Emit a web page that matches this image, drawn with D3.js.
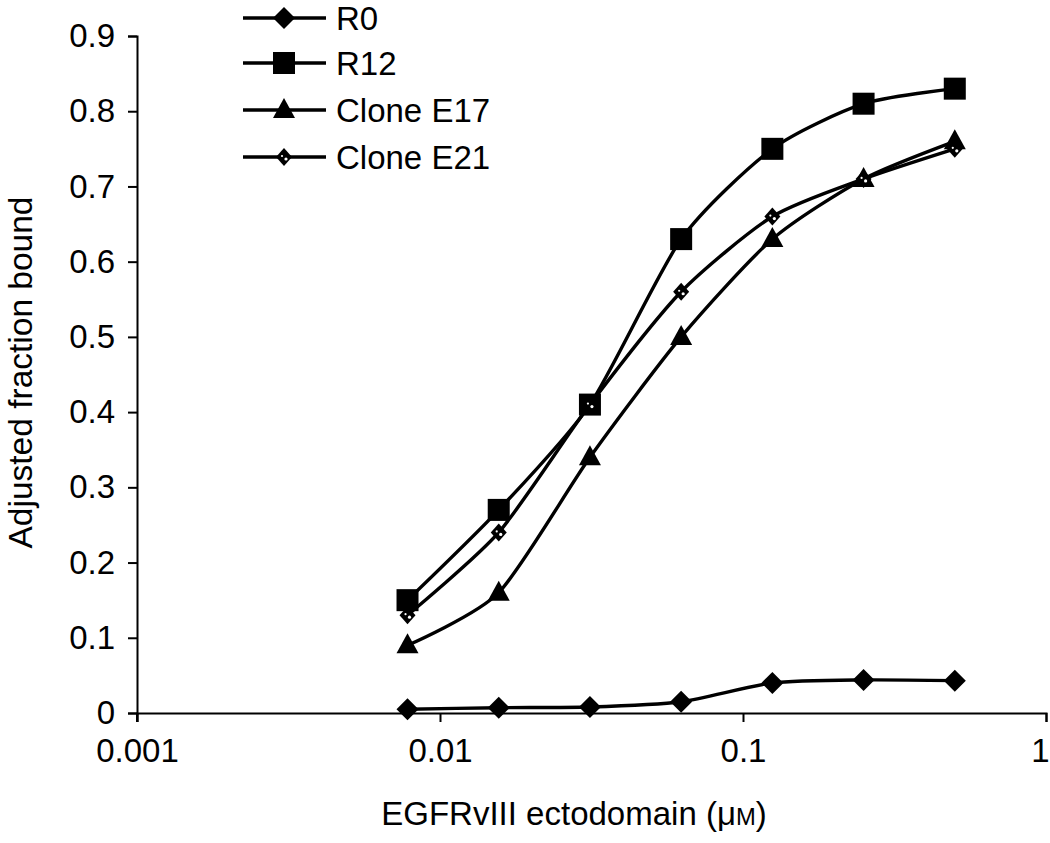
<!DOCTYPE html>
<html><head><meta charset="utf-8">
<script src="https://cdn.jsdelivr.net/npm/d3@7"></script>
<style>body{margin:0;background:#fff}svg{display:block}text{font-family:"Liberation Sans",Arial,sans-serif;fill:#000}</style>
</head><body>
<script>
const concentrations = [0.0078125, 0.015625, 0.03125, 0.0625, 0.125, 0.25, 0.5];
const seriesNames = ["R0", "R12", "Clone E17", "Clone E21"];
const r0   = [0.005, 0.007, 0.008, 0.015, 0.040, 0.044, 0.043];
const r12  = [0.150, 0.270, 0.410, 0.630, 0.750, 0.810, 0.830];
const e17  = [0.090, 0.160, 0.340, 0.500, 0.630, 0.710, 0.760];
const e21  = [0.130, 0.240, 0.410, 0.560, 0.660, 0.710, 0.750];
const xTicks = [0.001, 0.01, 0.1, 1];
const xTickLabels = ["0.001", "0.01", "0.1", "1"];
const yTicks = [0, 0.1, 0.2, 0.3, 0.4, 0.5, 0.6, 0.7, 0.8, 0.9];
const yTickLabels = ["0", "0.1", "0.2", "0.3", "0.4", "0.5", "0.6", "0.7", "0.8", "0.9"];
const markers = ["diamond", "square", "triangle", "star"];

const W = 1050, H = 843;
const m = {left: 137, top: 36, right: 4, bottom: 130};
const svg = d3.select("body").append("svg").attr("width", W).attr("height", H);
const x = d3.scaleLog().domain([0.001, 1]).range([m.left, W - m.right]);
const y = d3.scaleLinear().domain([0, 0.9]).range([H - m.bottom, m.top]);
const FS = 33;

// axes
const xAxis = svg.append("g").attr("transform", `translate(0,${y(0)})`)
  .call(d3.axisBottom(x).tickValues(xTicks).tickFormat((d,i) => xTickLabels[i]).tickSizeOuter(0).tickSize(9));
const yAxis = svg.append("g").attr("transform", `translate(${x(0.001)},0)`)
  .call(d3.axisLeft(y).tickValues(yTicks).tickFormat((d,i) => yTickLabels[i]).tickSizeOuter(0).tickSize(9));
[xAxis, yAxis].forEach(g => {
  g.select(".domain").attr("stroke", "#000").attr("stroke-width", 2);
  g.selectAll(".tick line").attr("stroke", "#000").attr("stroke-width", 2);
  g.selectAll(".tick text").attr("font-size", FS).attr("font-family", "Liberation Sans, Arial, sans-serif").attr("fill", "#000");
});
xAxis.selectAll(".tick text").attr("dy", "1.12em");
xAxis.selectAll(".tick").filter(d => d === 1).select("text").attr("text-anchor", "end").attr("dx", 3);
yAxis.selectAll(".tick text").attr("x", -22);
// cross tick at origin
svg.append("line").attr("x1", x(0.001)).attr("x2", x(0.001)).attr("y1", y(0)).attr("y2", y(0) + 9).attr("stroke", "#000").attr("stroke-width", 2);

const xt = svg.append("text").attr("x", 574).attr("y", 825).attr("text-anchor", "middle").attr("font-size", FS);
xt.append("tspan").text("EGFRvIII ectodomain (μ");
xt.append("tspan").attr("font-size", FS*0.72).text("M");
xt.append("tspan").text(")");
svg.append("text").attr("transform", `translate(32,${(y(0)+y(0.9))/2 - 2}) rotate(-90)`).attr("text-anchor", "middle")
  .attr("font-size", 33.5).text("Adjusted fraction bound");

function drawMarker(g, type, cx, cy) {
  if (type === "diamond") {
    g.append("path").attr("d", `M${cx},${cy-11}L${cx+11},${cy}L${cx},${cy+11}L${cx-11},${cy}Z`).attr("fill", "#000");
  } else if (type === "square") {
    g.append("rect").attr("x", cx-11).attr("y", cy-11).attr("width", 22).attr("height", 22).attr("fill", "#000");
  } else if (type === "triangle") {
    g.append("path").attr("d", `M${cx},${cy-12}L${cx+11},${cy+8}L${cx-11},${cy+8}Z`).attr("fill", "#000");
  } else {
    g.append("path").attr("d", `M${cx},${cy-9}L${cx+8},${cy}L${cx},${cy+9}L${cx-8},${cy}Z`).attr("fill", "#000");
    g.append("circle").attr("cx", cx+2).attr("cy", cy+2).attr("r", 1.6).attr("fill", "#fff");
    g.append("circle").attr("cx", cx-2).attr("cy", cy-1).attr("r", 1.1).attr("fill", "#fff");
  }
}

const allSeries = [r0, r12, e17, e21];
const line = d3.line().x(d => x(d[0])).y(d => y(d[1])).curve(d3.curveCardinal.tension(0.3));
allSeries.forEach((vals, si) => {
  const pts = concentrations.map((c, i) => [c, vals[i]]);
  const g = svg.append("g");
  g.append("path").attr("d", line(pts)).attr("fill", "none").attr("stroke", "#000").attr("stroke-width", 3.4);
  pts.forEach(p => drawMarker(g, markers[si], x(p[0]), y(p[1])));
});

// legend
const legY = [18, 63, 110, 157];
seriesNames.forEach((name, i) => {
  const g = svg.append("g");
  g.append("line").attr("x1", 243).attr("x2", 326).attr("y1", legY[i]).attr("y2", legY[i]).attr("stroke", "#000").attr("stroke-width", 3.4);
  drawMarker(g, markers[i], 284, legY[i]);
  g.append("text").attr("x", 336).attr("y", legY[i] + 12).attr("font-size", FS).text(name);
});
</script>
</body></html>
